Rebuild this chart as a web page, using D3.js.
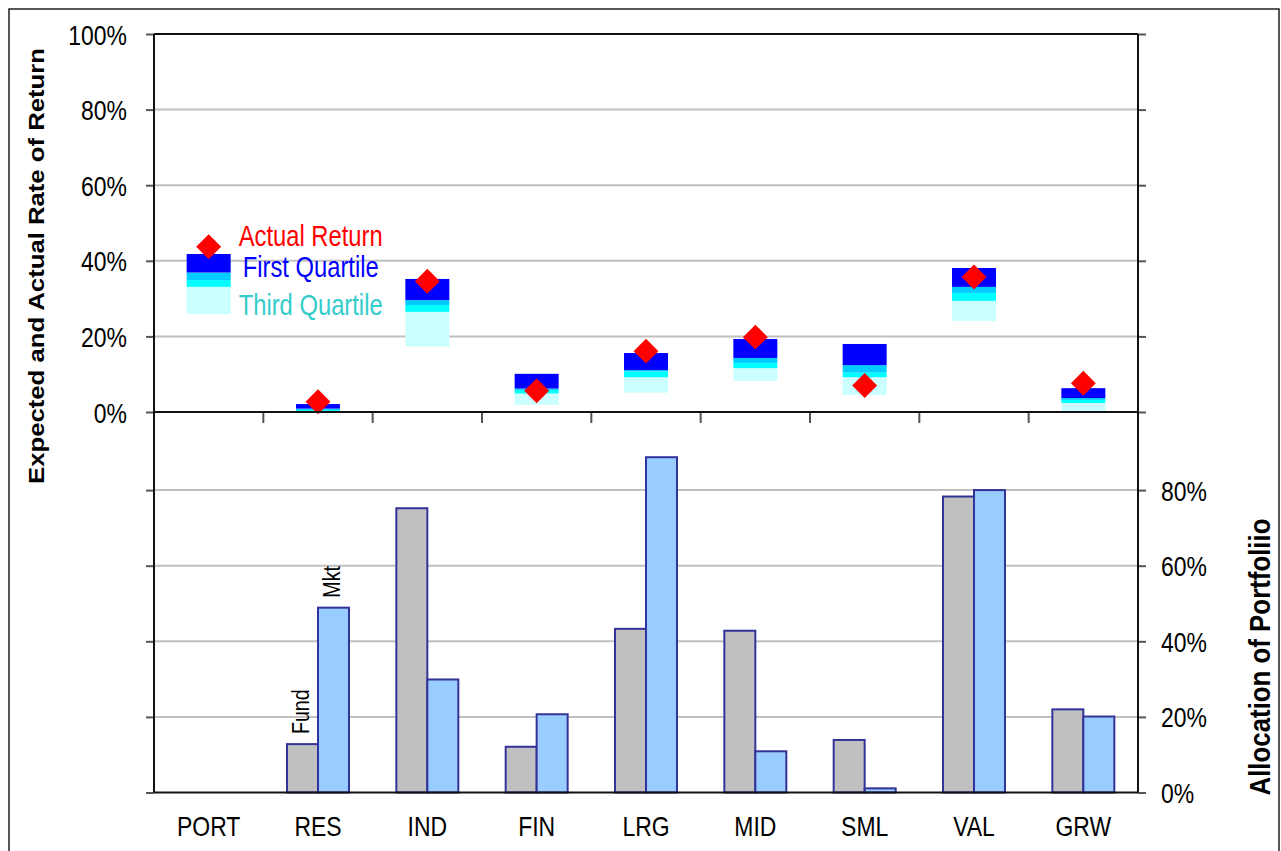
<!DOCTYPE html>
<html><head><meta charset="utf-8">
<script src="https://cdn.jsdelivr.net/npm/d3@7"></script>
<style>
body{margin:0;background:#fff;}
svg{display:block;font-family:"Liberation Sans",Arial,sans-serif;}
</style></head><body>
<svg id="chart" width="1281" height="851"></svg>
<script>
// ---------- data (percent) ----------
const categories = ["PORT","RES","IND","FIN","LRG","MID","SML","VAL","GRW"];
const lowVals       = [25.9, 0.0, 17.3, 1.9, 5.1,  8.2, 4.5, 24.1, 0.0];
const thirdQuartile = [33.1, 0.1, 26.5, 4.9, 9.2, 11.6, 9.2, 29.4, 2.4];
const medianVals    = [34.9, 0.5, 28.3, 5.8, 10.7, 13.0, 10.4, 31.5, 3.2];
const firstQuartile = [36.9, 0.9, 29.6, 6.2, 11.1, 14.3, 12.4, 33.1, 3.7];
const highVals      = [41.8, 2.1, 35.2, 10.1, 15.6, 19.3, 18.0, 38.1, 6.3];
const actualReturn  = [43.7, 2.7, 34.6, 5.6, 16.1, 19.8, 7.0, 35.7, 7.6];
const fundAlloc = [null, 12.8, 75.2, 12.1, 43.3, 42.8, 13.9, 78.3, 22.0];
const mktAlloc  = [null, 48.9, 29.9, 20.7, 88.7, 10.9, 1.1, 80.0, 20.1];
const allocSeries = ["Fund","Mkt"];
const returnTicks = [0,20,40,60,80,100];
const allocTicks = [0,20,40,60,80];
const legendLabels = ["Actual Return","First Quartile","Third Quartile"];
const yTitleLeft = "Expected and Actual Rate of Return";
const yTitleRight = "Allocation of Portfoliio";

// ---------- layout ----------
const svg = d3.select("#chart");
const L = 154, R = 1138, T = 34, M = 412, B = 792.5;
const NARROW = "scale(0.82,1)";

svg.append("rect").attr("x",9).attr("y",9).attr("width",1270).attr("height",860)
  .attr("fill","none").attr("stroke","#222").attr("stroke-width",1.5);

const x = d3.scaleBand().domain(categories).range([L,R]).padding(0);
const yTop = d3.scaleLinear().domain([0,100]).range([M,T]);
const yBot = d3.scaleLinear().domain([0,100]).range([B,B-378]);
const xSub = d3.scaleBand().domain(allocSeries).range([0,62]).padding(0);
const bw = x.bandwidth();

// gridlines
const grid = svg.append("g").attr("stroke","#c0c0c0").attr("stroke-width",2);
returnTicks.filter(t=>t>0 && t<100).forEach(t=>{
  grid.append("line").attr("x1",L).attr("x2",R).attr("y1",yTop(t)).attr("y2",yTop(t));
});
allocTicks.filter(t=>t>0).forEach(t=>{
  grid.append("line").attr("x1",L).attr("x2",R).attr("y1",yBot(t)).attr("y2",yBot(t));
});

// ---------- quartile boxes ----------
const boxW = 44;
const layers = [
  {lo: lowVals, hi: thirdQuartile, color:"#CCFFFF"},
  {lo: thirdQuartile, hi: medianVals, color:"#00FFFF"},
  {lo: medianVals, hi: firstQuartile, color:"#00CCFF"},
  {lo: firstQuartile, hi: highVals, color:"#0000FF"}
];
layers.forEach(ly=>{
  svg.append("g").selectAll("rect").data(categories).join("rect")
    .attr("x",c=>x(c)+bw/2-boxW/2).attr("width",boxW)
    .attr("y",(c,i)=>yTop(ly.hi[i]))
    .attr("height",(c,i)=>Math.max(0,yTop(ly.lo[i])-yTop(ly.hi[i])))
    .attr("fill",ly.color);
});
svg.append("g").selectAll("path").data(categories).join("path")
  .attr("d", d3.symbol().type(d3.symbolSquare).size(310))
  .attr("transform",(c,i)=>`translate(${x(c)+bw/2},${yTop(actualReturn[i])}) rotate(45)`)
  .attr("fill","#FF0000");

// legend text
const legColors = ["#FF0000","#0000FF","#33CCCC"];
const legY = [246, 277, 315];
svg.append("g").selectAll("text").data(legendLabels).join("text")
  .attr("transform",(d,i)=>`translate(${x("PORT")+bw/2+102},${legY[i]}) ${NARROW}`)
  .attr("text-anchor","middle").attr("font-size",29).attr("fill",(d,i)=>legColors[i]).text(d=>d);

// ---------- allocation bars ----------
const barData = [];
categories.forEach((c,i)=>{
  [fundAlloc[i], mktAlloc[i]].forEach((v,j)=>{ if(v!=null) barData.push({c, s:allocSeries[j], v}); });
});
svg.append("g").selectAll("rect").data(barData).join("rect")
  .attr("x",d=>x(d.c)+(bw-62)/2+xSub(d.s)).attr("width",xSub.bandwidth())
  .attr("y",d=>yBot(d.v)).attr("height",d=>B-yBot(d.v))
  .attr("fill",d=>d.s==="Fund"?"#C0C0C0":"#99CCFF")
  .attr("stroke","#333399").attr("stroke-width",2);

// Fund / Mkt labels on RES
barData.filter(d=>d.c==="RES").forEach(d=>{
  const cx = x(d.c)+(bw-62)/2+xSub(d.s)+xSub.bandwidth()/2+6;
  svg.append("text").attr("transform",`translate(${cx},${yBot(d.v)-10}) rotate(-90) ${NARROW}`)
    .attr("font-size",24).attr("fill","#000").text(d.s);
});

// ---------- axes ----------
const fmt = d=>d+"%";
const gl = svg.append("g").attr("transform",`translate(${L},0)`)
  .call(d3.axisLeft(yTop).tickValues(returnTicks).tickFormat(fmt).tickSize(8).tickSizeOuter(0));
gl.selectAll("text").attr("x",0).attr("dy",null).attr("y",10)
  .attr("transform",`translate(-27,0) ${NARROW}`).attr("font-size",28).attr("font-family","Liberation Sans, Arial").attr("fill","#000");
const gl2 = svg.append("g").attr("transform",`translate(${L},0)`)
  .call(d3.axisLeft(yBot).tickValues(allocTicks).tickFormat("").tickSize(8).tickSizeOuter(0));
const gr = svg.append("g").attr("transform",`translate(${R},0)`)
  .call(d3.axisRight(yTop).tickValues(returnTicks).tickFormat("").tickSize(8).tickSizeOuter(0));
const gr2 = svg.append("g").attr("transform",`translate(${R},0)`)
  .call(d3.axisRight(yBot).tickValues(allocTicks).tickFormat(fmt).tickSize(8).tickSizeOuter(0));
gr2.selectAll("text").attr("x",0).attr("dy",null).attr("y",10)
  .attr("transform",`translate(23,0) ${NARROW}`).attr("font-size",28).attr("font-family","Liberation Sans, Arial").attr("fill","#000");
[gl,gl2,gr,gr2].forEach(g=>{
  g.select(".domain").remove();
  g.selectAll(".tick line").attr("stroke","#555").attr("stroke-width",2);
});

// category labels
const gx = svg.append("g").attr("transform",`translate(0,${B})`)
  .call(d3.axisBottom(x).tickSize(0).tickPadding(24));
gx.select(".domain").remove();
gx.selectAll("text").attr("transform",NARROW).attr("font-size",28).attr("font-family","Liberation Sans, Arial").attr("fill","#000");

// category boundary ticks under the return axis
svg.append("g").selectAll("line").data(categories.slice(1)).join("line")
  .attr("x1",c=>x(c)).attr("x2",c=>x(c)).attr("y1",M).attr("y2",M+11)
  .attr("stroke","#555").attr("stroke-width",2);

// frame lines
const fr = svg.append("g").attr("stroke","#111").attr("stroke-width",2);
fr.append("line").attr("x1",L).attr("x2",R).attr("y1",T).attr("y2",T);
fr.append("line").attr("x1",L).attr("x2",R).attr("y1",M).attr("y2",M);
fr.append("line").attr("x1",L).attr("x2",R).attr("y1",B).attr("y2",B);
fr.append("line").attr("x1",L).attr("x2",L).attr("y1",T).attr("y2",B);
fr.append("line").attr("x1",R).attr("x2",R).attr("y1",T).attr("y2",B);

// axis titles
svg.append("text").attr("transform","translate(44,266) rotate(-90)")
  .attr("text-anchor","middle").attr("font-weight","bold").attr("font-size",22)
  .attr("textLength",436).attr("lengthAdjust","spacingAndGlyphs").text(yTitleLeft);
svg.append("text").attr("transform","translate(1270,657) rotate(-90)")
  .attr("text-anchor","middle").attr("font-weight","bold").attr("font-size",29)
  .attr("textLength",277).attr("lengthAdjust","spacingAndGlyphs").text(yTitleRight);
</script>
</body></html>
